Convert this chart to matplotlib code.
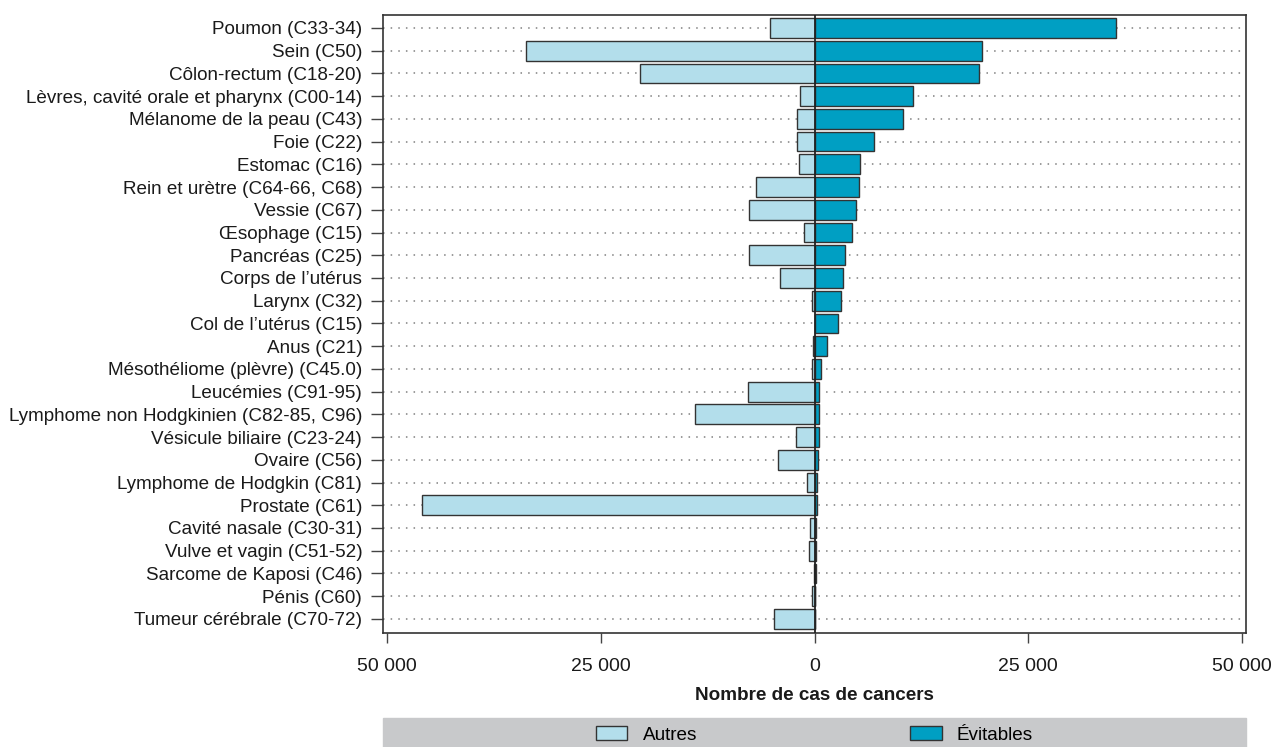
import numpy as np
import matplotlib
matplotlib.use("Agg")
import matplotlib.pyplot as plt
import matplotlib.patches as patches
from matplotlib.ticker import FuncFormatter

# cancer sites, top to bottom
sites = ["Poumon (C33-34)", "Sein (C50)", "Côlon-rectum (C18-20)",
         "Lèvres, cavité orale et pharynx (C00-14)", "Mélanome de la peau (C43)",
         "Foie (C22)", "Estomac (C16)", "Rein et urètre (C64-66, C68)", "Vessie (C67)",
         "Œsophage (C15)", "Pancréas (C25)", "Corps de l’utérus", "Larynx (C32)",
         "Col de l’utérus (C15)", "Anus (C21)", "Mésothéliome (plèvre) (C45.0)",
         "Leucémies (C91-95)", "Lymphome non Hodgkinien (C82-85, C96)",
         "Vésicule biliaire (C23-24)", "Ovaire (C56)", "Lymphome de Hodgkin (C81)",
         "Prostate (C61)", "Cavité nasale (C30-31)", "Vulve et vagin (C51-52)",
         "Sarcome de Kaposi (C46)", "Pénis (C60)", "Tumeur cérébrale (C70-72)"]

# number of cases
autres = [5150, 33800, 20400, 1720, 2000, 2100, 1840, 6800, 7700, 1200, 7700, 4000,
          300, 0, 200, 350, 7750, 13950, 2200, 4300, 900, 45900, 550, 670, 50, 250, 4700]
evitables = [35300, 19570, 19220, 11500, 10400, 6980, 5340, 5260, 4870, 4400, 3590, 3390,
             3120, 2770, 1440, 740, 580, 510, 470, 390, 350, 270, 200, 200, 120, 50, 0]

ticks = [-50000, -25000, 0, 25000, 50000]

plt.rcParams['font.family'] = ['Liberation Sans', 'DejaVu Sans']
FS = 13.6
c_autres = '#b3deeb'
c_evit = '#009fc3'
edge = '#333333'
txt = '#1a1a1a'

fig = plt.figure(figsize=(12.73, 7.47), dpi=100)
ax = fig.add_axes([383/1273, 1 - 633/747, (1246 - 383)/1273, (633 - 15)/747])

y = np.arange(len(sites))
ax.barh(y, -np.array(autres), height=0.87, color=c_autres, edgecolor=edge, linewidth=1, zorder=3, label='Autres')
ax.barh(y, evitables, height=0.87, color=c_evit, edgecolor=edge, linewidth=1, zorder=3, label='Évitables')
ax.axvline(0, color='#222222', linewidth=1.3, zorder=4)

ax.set_xlim(-50470, 50470)
ax.set_ylim(len(sites) - 1 + 0.62, -0.57)
ax.set_yticks(y)
ax.set_yticklabels(sites, fontsize=FS, color=txt)
ax.set_xticks(ticks)
ax.xaxis.set_major_formatter(FuncFormatter(lambda v, p: f"{abs(int(v)):,}".replace(",", " ")))
ax.tick_params(axis='x', labelsize=FS + 0.4, length=7, width=1, pad=11, colors='#444444', labelcolor=txt)
ax.tick_params(axis='y', length=9, width=1, pad=6, colors='#444444', labelcolor=txt)
ax.grid(axis='y', linestyle=(0, (1, 4)), color='#808080', linewidth=1.1, zorder=1)
ax.set_axisbelow(True)
for s in ax.spines.values():
    s.set_color('#333333')
    s.set_linewidth(1.2)

ax.set_xlabel("Nombre de cas de cancers", fontsize=FS, fontweight='bold', color=txt, labelpad=9)

# grey band behind the legend
fig.patches.append(patches.Rectangle((383/1273, 0), (1246 - 383)/1273, 29/747,
                                     transform=fig.transFigure, color='#c8c9cb', zorder=0))
fig.legend(loc='center', bbox_to_anchor=((383 + 1246)/2/1273, 1 - 735/747), ncol=2,
           frameon=False, fontsize=FS, handlelength=1.65, handleheight=0.78,
           handletextpad=0.8, columnspacing=11.3)

plt.savefig("out.png", dpi=100)
